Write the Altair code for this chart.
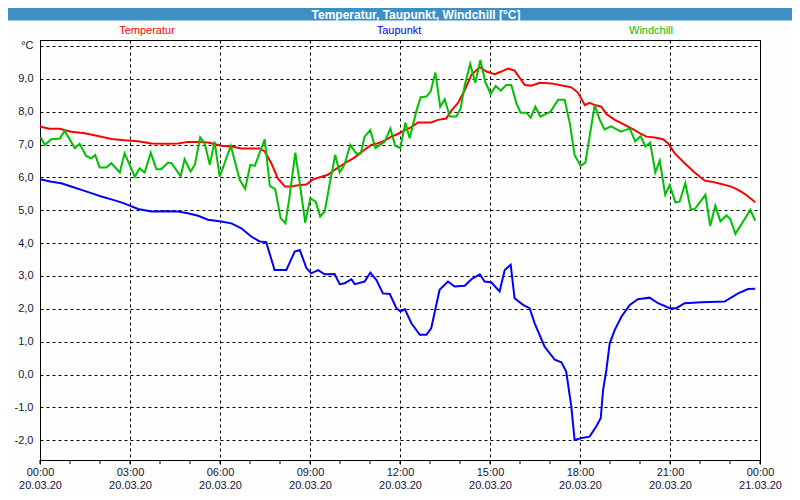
import altair as alt
import pandas as pd

# ---------------- data (hours since 20.03.20 00:00, °C) ----------------
series_names = ["Temperatur", "Taupunkt", "Windchill"]
series_colors = ["#ff0000", "#0000ff", "#00c000"]
title_text = ["Temperatur, Taupunkt, Windchill [°C]"]

temp_h = [0.0, 0.3, 0.65, 1.04, 1.49, 1.93, 2.38, 2.82, 3.27, 3.71, 4.16, 4.6, 4.93, 5.27, 5.6, 6.04,
          6.38, 6.71, 7.32, 7.49, 7.71, 7.93, 8.16, 8.38, 8.6, 8.88, 9.1, 9.38, 9.6, 9.82, 10.16, 10.49,
          10.82, 11.04, 11.27, 11.49, 11.71, 11.93, 12.16, 12.38, 12.6, 13.04, 13.27, 13.54, 13.71, 13.93,
          14.16, 14.38, 14.66, 14.88, 15.16, 15.38, 15.6, 15.82, 16.16, 16.38, 16.66, 17.04, 17.49, 17.71,
          17.93, 18.16, 18.32, 18.49, 18.71, 18.88, 19.16, 19.49, 19.82, 20.04, 20.21, 20.49, 20.77, 20.93,
          21.16, 21.49, 21.82, 22.16, 22.38, 22.71, 23.04, 23.27, 23.49, 23.84]
temp_v = [7.55, 7.48, 7.48, 7.39, 7.34, 7.26, 7.17, 7.13, 7.10, 7.03, 7.02, 7.03, 7.08, 7.08, 7.06, 6.96,
          6.94, 6.88, 6.88, 6.79, 6.43, 5.97, 5.72, 5.72, 5.76, 5.78, 5.94, 6.02, 6.08, 6.23, 6.43, 6.61,
          6.84, 6.99, 7.04, 7.12, 7.24, 7.32, 7.44, 7.53, 7.67, 7.67, 7.75, 7.79, 8.03, 8.26,
          8.66, 9.12, 9.35, 9.22, 9.14, 9.22, 9.31, 9.25, 8.81, 8.79, 8.88, 8.86, 8.78, 8.74,
          8.58, 8.20, 8.27, 8.20, 8.15, 7.93, 7.75, 7.60, 7.44, 7.32, 7.24, 7.21, 7.16, 7.04,
          6.73, 6.43, 6.15, 5.90, 5.87, 5.80, 5.72, 5.62, 5.50, 5.24]

dew_h = [0.0, 0.38, 0.71, 1.04, 1.38, 1.71, 2.04, 2.38, 2.71, 2.99, 3.27, 3.71, 4.16, 4.6, 4.93, 5.27,
         5.6, 6.04, 6.38, 6.71, 7.04, 7.32, 7.54, 7.82, 8.21, 8.49, 8.66, 8.88, 9.04, 9.27, 9.49, 9.82,
         9.99, 10.16, 10.38, 10.49, 10.82, 11.01, 11.21, 11.43, 11.66, 11.88, 12.02, 12.16, 12.38, 12.66,
         12.88, 13.04, 13.32, 13.6, 13.82, 14.16, 14.38, 14.66, 14.82, 15.04, 15.32, 15.49, 15.69, 15.82,
         16.1, 16.32, 16.49, 16.82, 17.16, 17.38, 17.54, 17.71, 17.82, 18.1, 18.32, 18.54, 18.69, 18.77,
         18.88, 18.99, 19.16, 19.38, 19.66, 19.93, 20.32, 20.6, 20.99, 21.21, 21.49, 22.04, 22.82, 23.27,
         23.6, 23.84]
dew_v = [5.94, 5.87, 5.82, 5.72, 5.62, 5.52, 5.42, 5.33, 5.24, 5.14, 5.04, 4.96, 4.97, 4.96, 4.91, 4.83,
         4.71, 4.66, 4.60, 4.45, 4.20, 4.05, 4.03, 3.18, 3.18, 3.74, 3.79, 3.24, 3.08, 3.18, 3.05, 3.06,
         2.75, 2.78, 2.90, 2.75, 2.83, 3.10, 2.88, 2.47, 2.45, 2.02, 1.92, 1.99, 1.56, 1.21,
         1.21, 1.41, 2.58, 2.83, 2.68, 2.70, 2.90, 3.05, 2.83, 2.81, 2.53, 3.18, 3.34, 2.32,
         2.12, 2.02, 1.56, 0.85, 0.45, 0.37, 0.09, -0.97, -1.99, -1.92, -1.89, -1.58, -1.33, -0.47,
         0.14, 0.95, 1.36, 1.76, 2.12, 2.29, 2.34, 2.17, 2.02, 2.02, 2.17, 2.20, 2.22, 2.47,
         2.60, 2.61]

wc_h = [0.02, 0.16, 0.38, 0.66, 0.82, 1.16, 1.32, 1.54, 1.71, 1.84,
        1.99, 2.21, 2.38, 2.66, 2.82, 3.16, 3.32, 3.49, 3.69, 3.88,
        4.04, 4.27, 4.38, 4.69, 4.82, 5.02, 5.16, 5.34, 5.49, 5.66,
        5.82, 5.99, 6.36, 6.66, 6.84, 7.01, 7.16, 7.49, 7.66, 7.84,
        8.02, 8.18, 8.32, 8.51, 8.66, 8.84, 9.01, 9.19, 9.34, 9.49,
        9.66, 9.84, 9.99, 10.16, 10.34, 10.54, 10.69, 10.82, 11.01, 11.18,
        11.49, 11.68, 11.84, 12.01, 12.18, 12.32, 12.54, 12.69, 12.88, 13.02,
        13.18, 13.34, 13.49, 13.66, 13.88, 14.02, 14.16, 14.34, 14.51, 14.68,
        14.84, 15.02, 15.19, 15.36, 15.54, 15.71, 15.88, 16.02, 16.21, 16.36,
        16.51, 16.68, 17.02, 17.27, 17.49, 17.66, 17.82, 18.02, 18.18, 18.32,
        18.49, 18.66, 18.82, 19.04, 19.36, 19.66, 19.84, 20.02, 20.18, 20.34,
        20.51, 20.66, 20.84, 20.99, 21.18, 21.32, 21.51, 21.69, 21.82, 22.18,
        22.34, 22.51, 22.68, 22.88, 23.01, 23.18, 23.68, 23.84]
wc_v = [7.22, 6.99, 7.16, 7.18, 7.42, 6.89, 7.02, 6.65, 6.58, 6.68,
        6.30, 6.30, 6.43, 6.15, 6.73, 6.02, 6.28, 6.15, 6.75, 6.25,
        6.25, 6.45, 6.43, 6.04, 6.55, 6.18, 6.38, 7.22, 7.04, 6.38,
        7.09, 6.02, 6.96, 5.92, 5.65, 6.38, 6.35, 7.16, 5.74, 5.64,
        4.76, 4.60, 5.42, 6.75, 5.82, 4.62, 5.36, 5.26, 4.81, 4.96,
        5.82, 6.68, 6.15, 6.41, 6.99, 6.73, 6.73, 7.24, 7.44, 6.89,
        7.09, 7.49, 6.96, 6.89, 7.67, 7.19, 8.00, 8.44, 8.46, 8.61,
        9.19, 8.15, 8.38, 7.85, 7.85, 8.10, 8.81, 9.45, 8.88, 9.57,
        8.91, 8.54, 8.78, 8.64, 8.81, 8.81, 8.26, 7.97, 7.97, 7.82,
        8.15, 7.85, 8.00, 8.36, 8.36, 7.65, 6.68, 6.35, 6.45, 7.24,
        8.20, 7.75, 7.46, 7.55, 7.39, 7.49, 7.09, 7.26, 6.94, 7.06,
        6.15, 6.51, 5.47, 5.77, 5.24, 5.26, 5.82, 5.03, 5.03, 5.47,
        4.52, 5.14, 4.66, 4.84, 4.73, 4.28, 5.01, 4.68]

x_major = [0, 3, 6, 9, 12, 15, 18, 21, 24]
x_minor = list(range(0, 25))
y_ticks = list(range(-2, 11))

# ---------------- build ----------------
rows = []
for name, hs, vs in zip(series_names, [temp_h, dew_h, wc_h], [temp_v, dew_v, wc_v]):
    for h, v in zip(hs, vs):
        rows.append({"serie": name, "h": h, "v": v})
df = pd.DataFrame(rows)

FONT = "Liberation Sans"
LABEL_COLOR = "#14143c"

x_scale = alt.Scale(domain=[0, 24], nice=False, zero=False)
y_scale = alt.Scale(domain=[-2.6, 10.18], nice=False, zero=False)

x_label_expr = ("[((datum.value % 24) < 10 ? '0' : '') + (datum.value % 24) + ':00', "
                "datum.value >= 24 ? '21.03.20' : '20.03.20']")
y_label_expr = ("datum.value == 10 ? '°C' : (datum.value < 0 ? '-' : '') + "
                "replace(format(abs(datum.value), '.1f'), '.', ',')")

x_axis = alt.Axis(values=x_major, labelExpr=x_label_expr, grid=True,
                  gridDash=[3, 3], gridColor="black", gridOpacity=1, gridWidth=1,
                  tickSize=4, tickColor="black", domainColor="black",
                  labelFont=FONT, labelFontSize=11, labelColor=LABEL_COLOR,
                  labelPadding=2, labelLineHeight=13, labelAngle=0,
                  labelFlush=False, labelOverlap=False)
y_axis = alt.Axis(values=y_ticks, labelExpr=y_label_expr, grid=True,
                  gridDash=[3, 3], gridColor="black", gridOpacity=1, gridWidth=1,
                  tickSize=0, domainColor="black",
                  labelFont=FONT, labelFontSize=11, labelColor=LABEL_COLOR,
                  labelPadding=7, labelFlush=False, labelOverlap=False)

lines = alt.Chart(df).mark_line(strokeWidth=2).encode(
    x=alt.X("h:Q", scale=x_scale, title=None, axis=x_axis),
    y=alt.Y("v:Q", scale=y_scale, title=None, axis=y_axis),
    color=alt.Color("serie:N", scale=alt.Scale(domain=series_names, range=series_colors),
                    legend=None),
    order=alt.Order("h:Q"),
)

minor_ticks = alt.Chart(pd.DataFrame({"h": x_minor})).mark_rule(color="black").encode(
    x=alt.X("h:Q", scale=x_scale, title=None, axis=x_axis),
    y=alt.value(420), y2=alt.value(424),
)

title_df = pd.DataFrame({"t": title_text})
title_bar = alt.Chart(title_df).mark_rect(color="#3d8fc4").encode(
    x=alt.value(-32), x2=alt.value(752), y=alt.value(-32), y2=alt.value(-19.5),
)
title_lbl = alt.Chart(title_df).mark_text(
    font=FONT, fontSize=12, fontWeight="bold", color="white", align="center", baseline="middle"
).encode(x=alt.value(376), y=alt.value(-25.5), text="t:N")

legend_x = [107, 359, 611]
legend_layers = []
for name, col, lx in zip(series_names, series_colors, legend_x):
    legend_layers.append(
        alt.Chart(pd.DataFrame({"t": [name]})).mark_text(
            font=FONT, fontSize=11, color=col, align="center", baseline="middle"
        ).encode(x=alt.value(lx), y=alt.value(-9), text="t:N")
    )

chart = alt.layer(lines, minor_ticks, title_bar, title_lbl, *legend_layers).properties(
    width=720, height=420,
    autosize=alt.AutoSizeParams(type="none"),
    padding={"left": 32, "top": 32, "right": 32, "bottom": 32},
    background="#fdfefd",
).configure_view(stroke="black", strokeWidth=1)

chart.save("out.html", embed_options={"renderer": "svg", "actions": False})
